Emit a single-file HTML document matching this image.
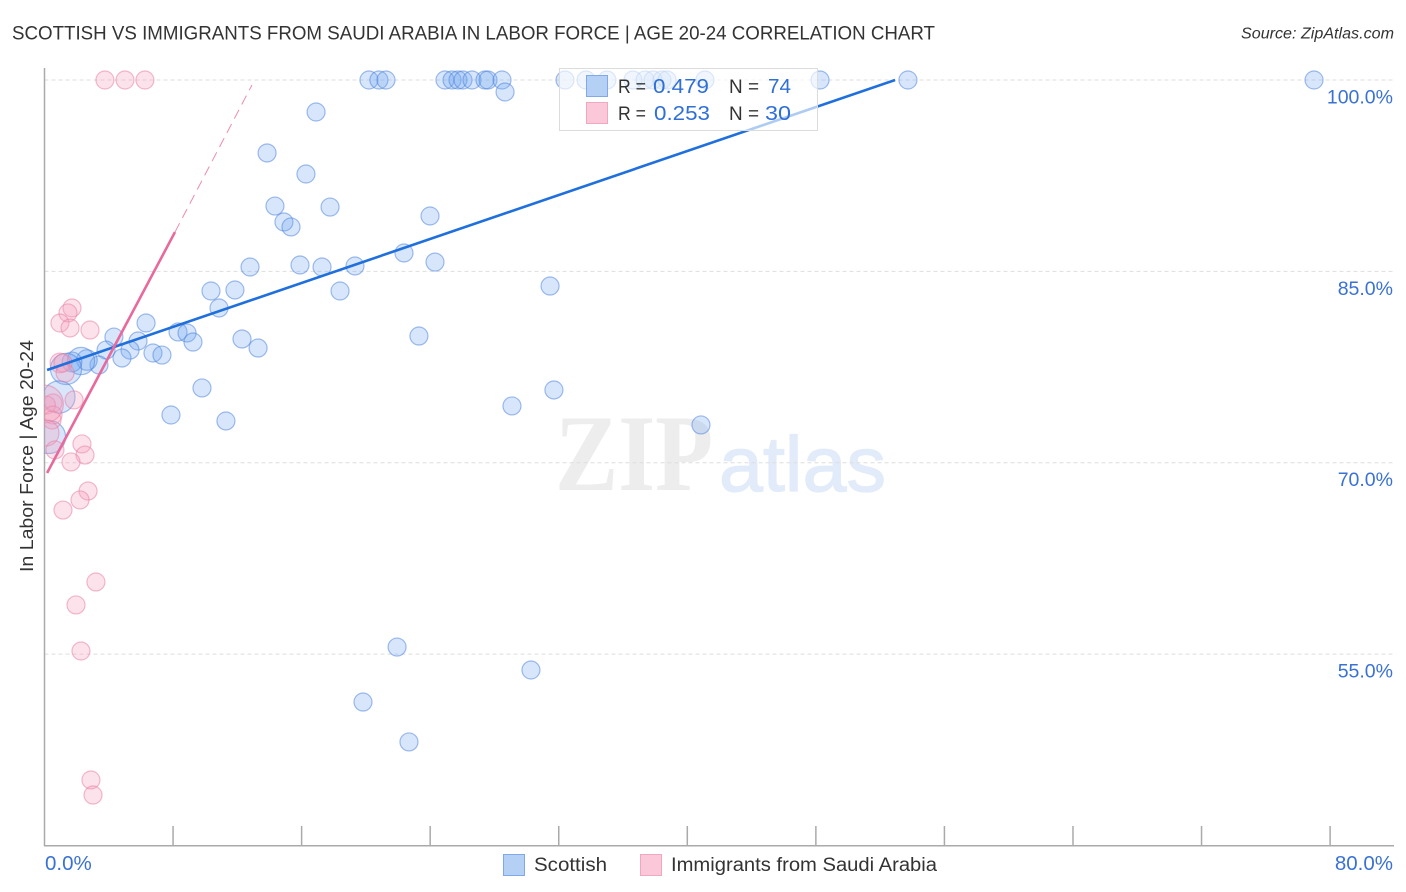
<!DOCTYPE html>
<html lang="en">
<head>
<meta charset="utf-8">
<title>Scottish vs Immigrants from Saudi Arabia in Labor Force | Age 20-24 Correlation Chart</title>
<style>
html,body{margin:0;padding:0;background:#fff;width:1406px;height:892px;overflow:hidden}
svg{display:block;font-family:"Liberation Sans",sans-serif}
</style>
</head>
<body>
<svg id="chart" xmlns="http://www.w3.org/2000/svg" width="1406" height="892" viewBox="0 0 1406 892">
  <defs>
    <clipPath id="plot-clip"><rect x="44.5" y="60" width="1350" height="786"/></clipPath>
  </defs>
  <text x="12" y="39.5" font-size="19.5" fill="#333" textLength="923" lengthAdjust="spacingAndGlyphs">SCOTTISH VS IMMIGRANTS FROM SAUDI ARABIA IN LABOR FORCE | AGE 20-24 CORRELATION CHART</text>
  <text x="1241" y="38.5" font-size="15.5" font-style="italic" fill="#333" textLength="153" lengthAdjust="spacingAndGlyphs">Source: ZipAtlas.com</text>
  <text x="555" y="490" font-family="'Liberation Serif',serif" font-weight="bold" font-size="109" fill="#ededed" textLength="158" lengthAdjust="spacingAndGlyphs">ZIP</text>
  <text x="719" y="491" font-size="78" fill="#e2ebf9" stroke="#e2ebf9" stroke-width="1.2" textLength="167" lengthAdjust="spacingAndGlyphs">atlas</text>
  <g id="grid"></g>
  <g id="axes"></g>
  <g clip-path="url(#plot-clip)">
    <g id="scottish-points"></g>
    <g id="saudi-points"></g>
  </g>
  <g id="trends"></g>
  <text transform="translate(33 572) rotate(-90)" font-size="18.5" fill="#333" textLength="232" lengthAdjust="spacingAndGlyphs">In Labor Force | Age 20-24</text>

  <g>
    <rect x="559.5" y="68.5" width="258" height="62" fill="#fff" fill-opacity="0.64" stroke="#dcdcdc" stroke-width="1"/>
    <rect x="586.5" y="75.5" width="21" height="21" fill="#b5d0f5" stroke="#7fa9e8" stroke-width="1"/>
    <rect x="586.5" y="102.5" width="21" height="21" fill="#fbc8d9" stroke="#f0a8c1" stroke-width="1"/>
    <text x="618" y="93" font-size="19.5" fill="#333" textLength="28" lengthAdjust="spacingAndGlyphs">R =</text>
    <text x="653" y="93" font-size="20.5" fill="#2f6fd6" textLength="56" lengthAdjust="spacingAndGlyphs">0.479</text>
    <text x="729" y="93" font-size="19.5" fill="#333" textLength="30" lengthAdjust="spacingAndGlyphs">N =</text>
    <text x="768" y="93" font-size="20.5" fill="#2f6fd6" textLength="23" lengthAdjust="spacingAndGlyphs">74</text>
    <text x="618" y="120" font-size="19.5" fill="#333" textLength="28" lengthAdjust="spacingAndGlyphs">R =</text>
    <text x="654" y="120" font-size="20.5" fill="#2f6fd6" textLength="56" lengthAdjust="spacingAndGlyphs">0.253</text>
    <text x="729" y="120" font-size="19.5" fill="#333" textLength="30" lengthAdjust="spacingAndGlyphs">N =</text>
    <text x="765" y="120" font-size="20.5" fill="#2f6fd6" textLength="26" lengthAdjust="spacingAndGlyphs">30</text>
  </g>

  <g>
    <rect x="503.5" y="854.5" width="21" height="21" fill="#b5d0f5" stroke="#7fa9e8" stroke-width="1"/>
    <text x="534" y="871" font-size="19" fill="#333" textLength="73" lengthAdjust="spacingAndGlyphs">Scottish</text>
    <rect x="640.5" y="854.5" width="21" height="21" fill="#fbc8d9" stroke="#f0a8c1" stroke-width="1"/>
    <text x="671" y="871" font-size="19" fill="#333" textLength="266" lengthAdjust="spacingAndGlyphs">Immigrants from Saudi Arabia</text>
  </g>
</svg>
<script>
const scottishX = [20.19,20.81,21.25,24.92,25.36,25.73,26.04,26.60,27.41,27.60,28.47,32.39,33.70,35.00,36.62,37.37,37.87,38.42,38.74,41.10,48.26,53.73,79.00,
  28.66,16.90,13.85,16.27,14.34,17.77,14.90,15.34,23.99,22.37,24.30,12.79,15.90,17.27,19.32,18.39,10.36,11.85,10.86,31.46,6.32,8.31,8.87,9.24,4.32,5.82,12.29,13.29,23.30,3.83,5.32,4.82,6.75,7.31,3.39,2.64,2.27,1.71,1.34,0.90,0.28,9.80,31.70,29.09,7.87,11.29,40.85,21.94,30.27,19.82,22.68];
const scottishY = [100,100,100,100,100,100,100,100,100,100,100,100,100,100,100,100,100,100,100,100,100,100,100,
  99.06,97.49,94.28,92.63,90.12,90.04,88.87,88.48,89.34,86.44,85.73,85.34,85.50,85.34,85.42,83.46,83.46,83.54,82.13,83.85,80.95,80.25,80.17,79.46,79.85,79.54,79.70,78.99,79.93,78.83,78.83,78.21,78.60,78.44,77.66,78.05,77.97,77.90,77.35,75.15,72.02,75.86,75.70,74.45,73.74,73.27,72.96,55.55,53.75,51.24,48.11];
const scottishWeight = [1,1,1,1,1,1,1,1,1,1,1,1,1,1,1,1,1,1,1,1,1,1,1,
  1,1,1,1,1,1,1,1,1,1,1,1,1,1,1,1,1,1,1,1,1,1,1,1,1,1,1,1,1,1,1,1,1,1,1,1.3,2.3,1.2,3.0,3.2,3.4,1,1,1,1,1,1,1,1,1,1];
const saudiX = [3.76,5.01,6.25,1.71,1.46,0.96,1.59,2.83,0.96,1.15,1.28,1.84,0.53,0.12,0.53,0.47,0,0.09,0.65,2.33,2.52,1.65,2.71,2.21,1.15,3.20,1.96,2.27,2.89,3.02];
const saudiY = [100,100,100,82.13,81.74,80.95,80.56,80.40,77.82,77.82,77.03,74.92,74.68,74.52,73.74,73.35,74.60,72.33,71.00,71.47,70.60,70.06,67.78,67.08,66.29,60.65,58.85,55.24,45.13,43.95];
const saudiWeight = [1,1,1,1,1,1,1,1,1.2,1,1,1,1,1,1,1,4.4,2.1,1,1,1,1,1,1,1,1,1,1,1,1];
const scottishTrendX = [0.16,52.93];
const scottishTrendY = [77.27,100];
const saudiTrendX = [0.16,8.12,12.91];
const saudiTrendY = [69.19,88.08,99.61];
const xTickValues = [0,8,16,24,32,40,48,56,64,72,80];
const yTickValues = [100,85,70,55];
const yTickLabels = ["100.0%","85.0%","70.0%","55.0%"];
const xEndValues = [0,80];
const xEndLabels = ["0.0%","80.0%"];

const NS = "http://www.w3.org/2000/svg";
const xScale = v => 44.5 + v * 16.07;
const yScale = v => 80 + (100 - v) * 12.757;

function make(tag, parent, attrs) {
  const el = document.createElementNS(NS, tag);
  for (const k in attrs) el.setAttribute(k, attrs[k]);
  parent.appendChild(el);
  return el;
}

const grid = document.getElementById("grid");
const axes = document.getElementById("axes");
const trends = document.getElementById("trends");

yTickValues.forEach((v, i) => {
  const line = make("line", grid, {x1: 44.5, x2: 1394, y1: yScale(v), y2: yScale(v), stroke: "#dedede", "stroke-width": 1, "stroke-dasharray": "4 3"});
  
  
  const label = make("text", axes, {x: 1393, y: yScale(v) + 23.5, "text-anchor": "end", "font-size": 19.5, fill: "#3a72d4"});
  
  
  label.textContent = yTickLabels[i];
});

const yAxis = make("line", axes, {x1: 44.5, x2: 44.5, y1: 68, y2: 846, stroke: "#aaa", "stroke-width": 1.5});


const xAxis = make("line", axes, {x1: 44, x2: 1394, y1: 845.8, y2: 845.8, stroke: "#aaa", "stroke-width": 1.5});



xTickValues.slice(1).forEach(v => {
  const tick = make("line", axes, {x1: xScale(v), x2: xScale(v), y1: 826, y2: 846, stroke: "#aaa", "stroke-width": 1.5});
  
  
});

xEndValues.forEach((v, i) => {
  const label = make("text", axes, {x: i === 0 ? 45 : 1393, y: 870, "text-anchor": i === 0 ? "start" : "end", "font-size": 20.5, fill: "#3a72d4"});
  
  
  label.textContent = xEndLabels[i];
});

function drawPoints(groupId, xs, ys, ws, fill, stroke) {
  const group = document.getElementById(groupId);
  xs.forEach((x, i) => {
    const c = make("circle", group, {cx: xScale(x), cy: yScale(ys[i]), r: 9 * Math.sqrt(ws[i]), fill: fill, stroke: stroke, "stroke-width": 1.2});
    
    
  });
}
drawPoints("scottish-points", scottishX, scottishY, scottishWeight, "rgba(110,165,240,0.28)", "rgba(70,125,220,0.5)");
drawPoints("saudi-points", saudiX, saudiY, saudiWeight, "rgba(245,160,190,0.30)", "rgba(232,120,160,0.5)");

const blueTrend = make("line", trends, {x1: xScale(scottishTrendX[0]), y1: yScale(scottishTrendY[0]), x2: xScale(scottishTrendX[1]), y2: yScale(scottishTrendY[1]), stroke: "#1f6fdc", "stroke-width": 2.6});


const pinkTrend = make("line", trends, {x1: xScale(saudiTrendX[0]), y1: yScale(saudiTrendY[0]), x2: xScale(saudiTrendX[1]), y2: yScale(saudiTrendY[1]), stroke: "#e8699b", "stroke-width": 2.6});


const pinkDash = make("line", trends, {x1: xScale(saudiTrendX[1]), y1: yScale(saudiTrendY[1]), x2: xScale(saudiTrendX[2]), y2: yScale(saudiTrendY[2]), stroke: "#ec8cb0", "stroke-width": 1, "stroke-dasharray": "10 6"});


</script>
</body>
</html>
